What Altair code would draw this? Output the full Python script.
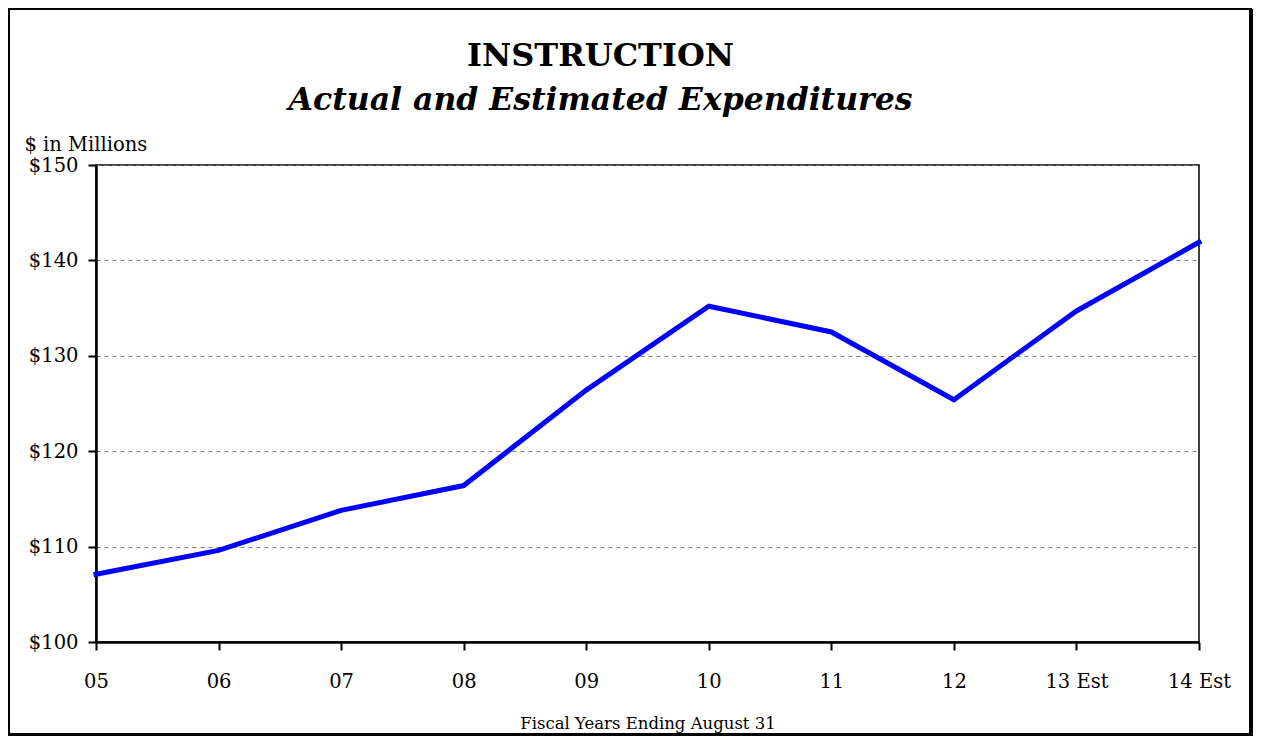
import altair as alt
import pandas as pd

years = ["05", "06", "07", "08", "09", "10", "11", "12", "13 Est", "14 Est"]
expenditures = [107.1, 109.6, 113.8, 116.4, 126.4, 135.2, 132.5, 125.4, 134.7, 141.9]
y_ticks = [100, 110, 120, 130, 140, 150]

df = pd.DataFrame({"year": years, "value": expenditures})

FONT = "DejaVu Serif"
W, H = 1103, 477

line = alt.Chart(df).mark_line(color="#0000FF", strokeWidth=5, strokeCap="square").encode(
    x=alt.X("year:N", sort=years,
            scale=alt.Scale(type="point", padding=0),
            axis=alt.Axis(title="Fiscal Years Ending August 31", labelAngle=0,
                          labelPadding=22, titleY=81, titleBaseline="middle",
                          titleFontWeight="normal", titleFontSize=16.5, titleFont=FONT,
                          labelFont=FONT, labelFontSize=19.5, grid=False,
                          tickSize=8, tickWidth=2, domainWidth=2.5,
                          domainColor="black", tickColor="black", labelColor="black",
                          titleColor="black")),
    y=alt.Y("value:Q",
            scale=alt.Scale(domain=[100, 150], nice=False, zero=False),
            axis=alt.Axis(title="$ in Millions", values=y_ticks,
                          labelExpr="'$' + datum.value",
                          titleAngle=0, titleX=-72, titleY=-21, titleAlign="left",
                          titleBaseline="middle", titleFontWeight="normal",
                          titleFontSize=19.5, titleFont=FONT,
                          labelFont=FONT, labelFontSize=19.5, labelPadding=10,
                          tickSize=8, tickWidth=2, domainWidth=2.5,
                          domainColor="black", tickColor="black", labelColor="black",
                          titleColor="black",
                          grid=True, gridColor="#808080", gridDash=[4, 4], gridWidth=1.2)),
)

# outer decorative frame (thin left/top, heavy right/bottom)
frame_l, frame_t, frame_r, frame_b = -87, -156, 1155, 570
frame = alt.Chart(df.head(1)).mark_rect(fill=None, stroke="black", strokeWidth=2).encode(
    x=alt.value(frame_l), x2=alt.value(frame_r), y=alt.value(frame_t), y2=alt.value(frame_b)
)
shadow_r = alt.Chart(df.head(1)).mark_rule(color="black", strokeWidth=4).encode(
    x=alt.value(frame_r), y=alt.value(frame_t), y2=alt.value(frame_b + 1)
)
shadow_b = alt.Chart(df.head(1)).mark_rule(color="black", strokeWidth=4).encode(
    x=alt.value(frame_l), x2=alt.value(frame_r + 1), y=alt.value(frame_b)
)

chart = alt.layer(frame, shadow_r, shadow_b, line).properties(
    width=W, height=H,
    autosize=alt.AutoSizeParams(type="none"),
    padding={"left": 88, "top": 157, "right": 55, "bottom": 94},
    title=alt.Title(
        "INSTRUCTION",
        subtitle="Actual and Estimated Expenditures",
        font=FONT, fontSize=32, fontWeight="bold", color="black",
        subtitleFont=FONT, subtitleFontSize=31.5, subtitleFontWeight="bold",
        subtitleFontStyle="italic", subtitleColor="black", subtitlePadding=12,
        anchor="middle", dx=-47, offset=-110,
    ),
).configure(background="white").configure_view(stroke="black", strokeWidth=1.5)

chart.save("out.html", embed_options={"renderer": "svg", "actions": False})
